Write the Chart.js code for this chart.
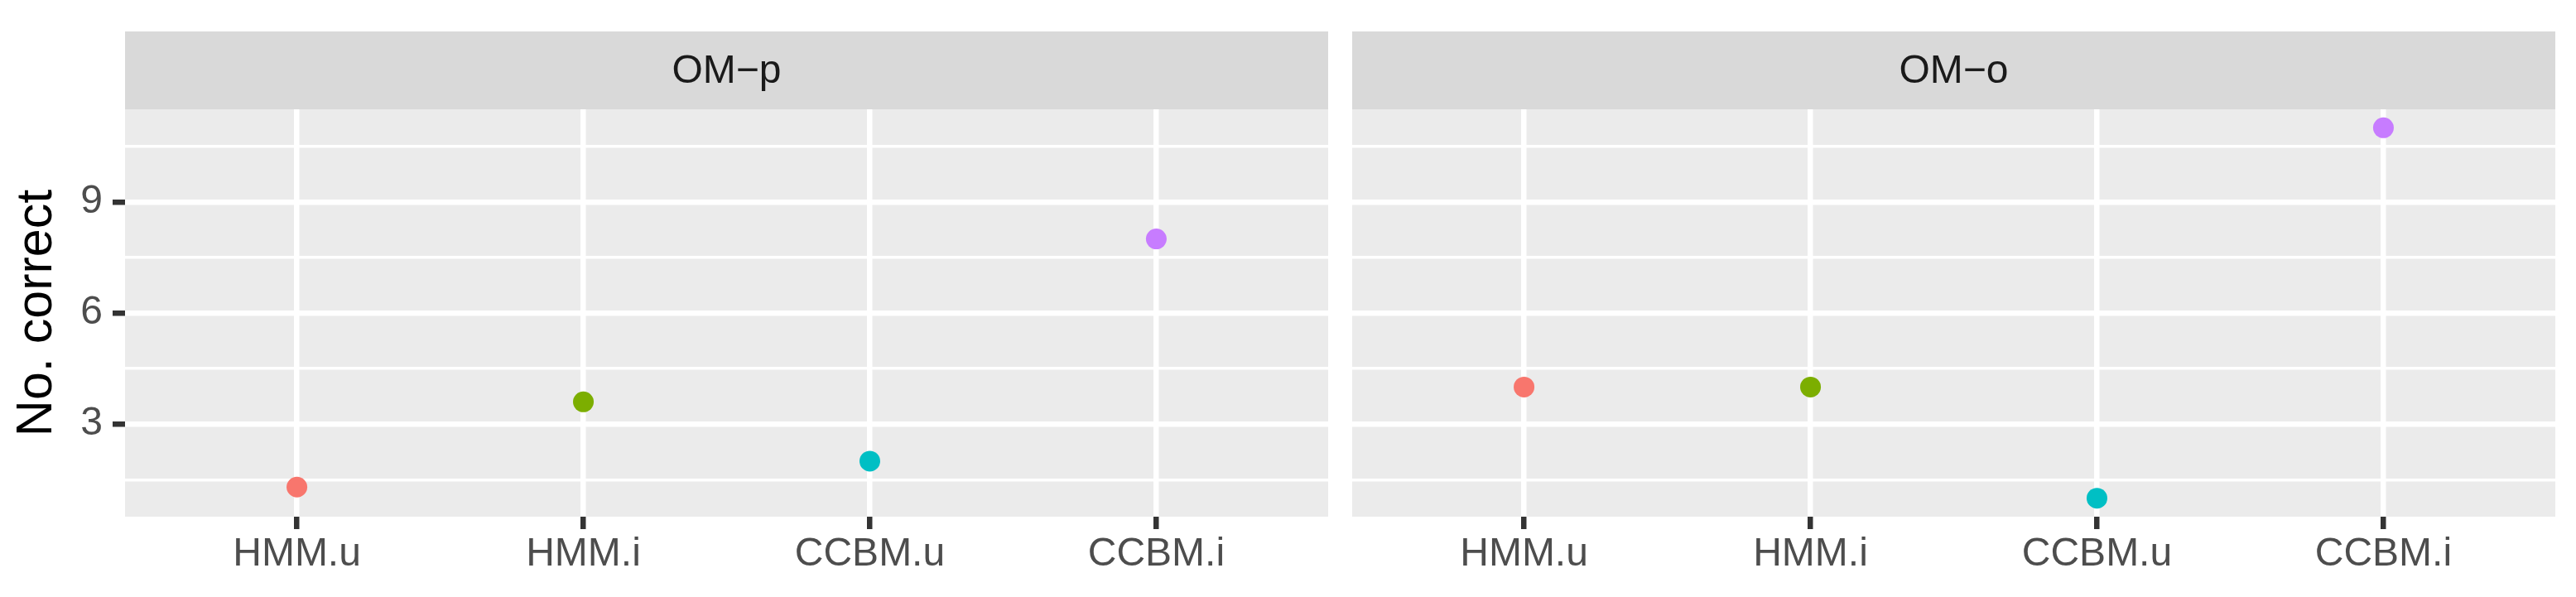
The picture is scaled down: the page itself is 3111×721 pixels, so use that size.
<!DOCTYPE html>
<html>
<head>
<meta charset="utf-8">
<script src="https://cdn.jsdelivr.net/npm/chart.js@4.4.1/dist/chart.umd.min.js"></script>
<style>
  body { margin: 0; background: #fff; }
  canvas { position: absolute; top: 0; }
</style>
</head>
<body>
<canvas id="panelP" width="1618" height="721" style="left:0"></canvas>
<canvas id="panelO" width="1493" height="721" style="left:1618px"></canvas>
<script>
// data
const methods = ["HMM.u", "HMM.i", "CCBM.u", "CCBM.i"];
const facets = ["OM\u2212p", "OM\u2212o"];
const omP = [1.3, 3.6, 2, 8];
const omO = [4, 4, 1, 11];
const pointColors = ["#F8766D", "#7CAE00", "#00BFC4", "#C77CFF"];
const yMajorTicks = [3, 6, 9];
const yMinorTicks = [1.5, 4.5, 7.5, 10.5];

const FONT = "'Liberation Sans', Arial, sans-serif";

// panel background + facet strip
const stripPlugin = {
  id: "strip",
  beforeDraw(chart, args, opts) {
    const ctx = chart.ctx;
    const a = chart.chartArea;
    ctx.save();
    ctx.fillStyle = "#EBEBEB";
    ctx.fillRect(a.left, a.top, a.right - a.left, a.bottom - a.top);
    ctx.fillStyle = "#D9D9D9";
    ctx.fillRect(a.left, opts.top, a.right - a.left, a.top - opts.top);
    ctx.fillStyle = "#1A1A1A";
    ctx.font = "48px " + FONT;
    ctx.textAlign = "center";
    ctx.textBaseline = "middle";
    ctx.fillText(opts.text, (a.left + a.right) / 2, (opts.top + a.top) / 2 + 2);
    ctx.restore();
  }
};

function makePanel(id, title, values, showY, pad, yWidth) {
  const allY = yMinorTicks.concat(yMajorTicks).sort((a, b) => a - b);
  new Chart(document.getElementById(id), {
    type: "scatter",
    data: {
      datasets: [{
        data: values.map((v, i) => ({ x: i + 1, y: v })),
        pointBackgroundColor: pointColors,
        pointBorderWidth: 0,
        pointRadius: 12.5,
        showLine: false,
        clip: false
      }]
    },
    options: {
      responsive: false,
      animation: false,
      layout: { padding: pad },
      plugins: {
        legend: { display: false },
        tooltip: { enabled: false },
        strip: { text: title, top: 38 }
      },
      scales: {
        x: {
          type: "linear",
          min: 0.4,
          max: 4.6,
          afterBuildTicks: (s) => { s.ticks = methods.map((m, i) => ({ value: i + 1 })); },
          afterFit: (s) => { s.height = 97; },
          border: { display: false },
          grid: {
            color: "#FFFFFF",
            lineWidth: 6.5,
            tickColor: "#333333",
            tickWidth: 6.5,
            tickLength: 15
          },
          ticks: {
            color: "#4D4D4D",
            font: { family: FONT, size: 48 },
            padding: 2,
            maxRotation: 0,
            autoSkip: false,
            callback: (v) => methods[Math.round(v) - 1]
          }
        },
        y: {
          min: 0.5,
          max: 11.5,
          afterBuildTicks: (s) => { s.ticks = allY.map((v) => ({ value: v })); },
          afterFit: (s) => { s.width = yWidth; },
          border: { display: false },
          grid: {
            color: "#FFFFFF",
            lineWidth: (c) => yMajorTicks.includes(c.tick.value) ? 6.5 : 3.5,
            drawTicks: showY,
            tickColor: (c) => yMajorTicks.includes(c.tick.value) ? "#333333" : "rgba(0,0,0,0)",
            tickWidth: 6.5,
            tickLength: 15
          },
          ticks: {
            display: showY,
            color: "#4D4D4D",
            font: { family: FONT, size: 48 },
            padding: 12,
            autoSkip: false,
            callback: (v) => yMajorTicks.includes(v) ? String(v) : ""
          },
          title: {
            display: showY,
            text: "No. correct",
            color: "#000000",
            font: { family: FONT, size: 61 },
            padding: { top: 9, bottom: 0 }
          }
        }
      }
    },
    plugins: [stripPlugin]
  });
}

makePanel("panelP", facets[0], omP, true, { top: 132, right: 14, bottom: 0, left: 0 }, 151);
makePanel("panelO", facets[1], omO, false, { top: 132, right: 25, bottom: 0, left: 0 }, 15);
</script>
</body>
</html>
